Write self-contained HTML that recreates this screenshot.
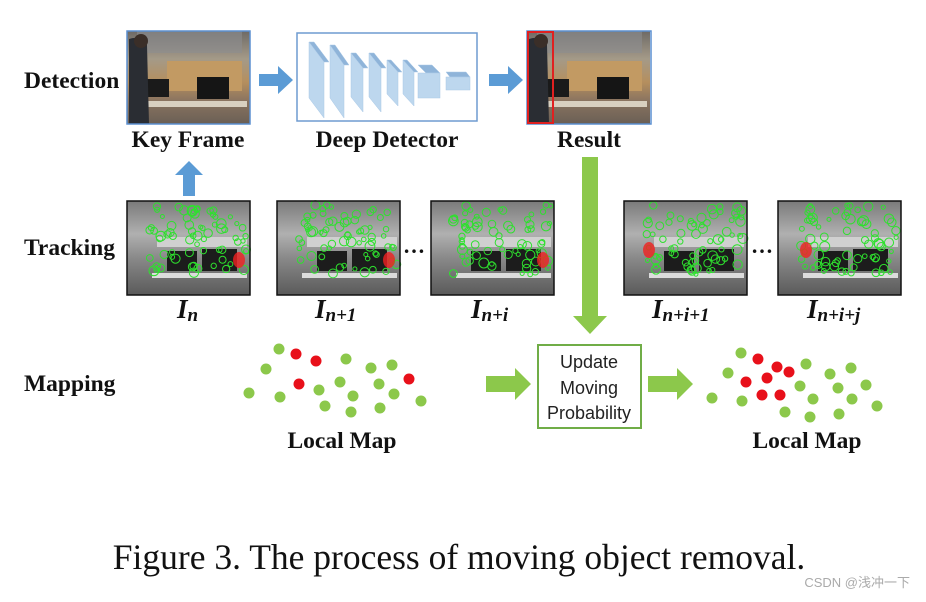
<!DOCTYPE html>
<html><head><meta charset="utf-8"><style>
html,body{margin:0;padding:0;background:#fff;}
body{width:926px;height:602px;overflow:hidden;position:relative;}
svg{position:absolute;left:0;top:0;}
.lb{font-family:"Liberation Serif",serif;font-weight:bold;fill:#111;}
</style></head><body>
<svg width="926" height="602" viewBox="0 0 926 602" xmlns="http://www.w3.org/2000/svg">
<defs>
<linearGradient id="wall" x1="0" y1="0" x2="0" y2="1">
<stop offset="0" stop-color="#6e6a66"/><stop offset="0.3" stop-color="#a49a88"/><stop offset="0.55" stop-color="#b58f5e"/><stop offset="0.75" stop-color="#8a7460"/><stop offset="1" stop-color="#6a5f55"/></linearGradient>
<linearGradient id="gray" x1="0" y1="0" x2="0" y2="1">
<stop offset="0" stop-color="#7a7a7a"/><stop offset="0.35" stop-color="#b0b0b0"/><stop offset="0.6" stop-color="#8a8a8a"/><stop offset="1" stop-color="#5a5a5a"/></linearGradient>
<g id="photo">
<rect x="0" y="0" width="123" height="93" fill="url(#wall)"/>
<rect x="10" y="0" width="105" height="22" fill="#8c8d91" opacity="0.6"/>
<rect x="40" y="30" width="75" height="30" fill="#c29a63"/>
<rect x="18" y="48" width="24" height="18" fill="#1a1a1a"/>
<rect x="70" y="46" width="32" height="22" fill="#151515"/>
<rect x="10" y="70" width="110" height="6" fill="#d8d0c0"/>
<path d="M2 8 Q14 4 20 14 L22 93 L2 93 Z" fill="#2a2d33"/>
<circle cx="14" cy="10" r="7" fill="#3a2e28"/>
</g>
<g id="gphoto">
<rect x="0" y="0" width="123" height="94" fill="url(#gray)"/>
<rect x="30" y="36" width="90" height="10" fill="#d0d0d0"/>
<rect x="40" y="50" width="30" height="20" fill="#1c1c1c"/>
<rect x="75" y="48" width="35" height="22" fill="#1c1c1c"/>
<rect x="25" y="72" width="95" height="5" fill="#dcdcdc"/>
</g>
</defs>

<text class="lb" x="24" y="88" font-size="23.5">Detection</text>
<text class="lb" x="24" y="255" font-size="23.5">Tracking</text>
<text class="lb" x="24" y="391" font-size="23.5">Mapping</text>

<g transform="translate(127,31)"><use href="#photo"/></g>
<rect x="127" y="31" width="123" height="93" fill="none" stroke="#5b8fd0" stroke-width="1.5"/>
<text class="lb" x="188" y="147" font-size="23.5" text-anchor="middle">Key Frame</text>

<path d="M259 74 H278 V66 L293 80 L278 94 V86 H259 Z" fill="#5b9bd5"/>
<path d="M489 74 H508 V66 L523 80 L508 94 V86 H489 Z" fill="#5b9bd5"/>
<path d="M183 196 V175 H175 L189 161 L203 175 H195 V196 Z" fill="#5b9bd5"/>

<rect x="297" y="33" width="180" height="88" fill="#fff" stroke="#6f9bd0" stroke-width="1.5"/>
<g fill="#bdd7ee" stroke="#a9c8e6" stroke-width="0.5">
<polygon points="309,42 314,42 329,62 324,62" fill="#8fb4d9"/><polygon points="309,42 324,62 324,118 309,98"/>
<polygon points="330,45 335,45 349,65 344,65" fill="#8fb4d9"/><polygon points="330,45 344,65 344,118 330,98"/>
<polygon points="351,53 356,53 368,68 363,68" fill="#8fb4d9"/><polygon points="351,53 363,68 363,112 351,97"/>
<polygon points="369,53 374,53 386,68 381,68" fill="#8fb4d9"/><polygon points="369,53 381,68 381,112 369,97"/>
<polygon points="387,60 391,60 402,72 398,72" fill="#8fb4d9"/><polygon points="387,60 398,72 398,106 387,94"/>
<polygon points="403,60 407,60 418,72 414,72" fill="#8fb4d9"/><polygon points="403,60 414,72 414,106 403,94"/>
<polygon points="418,65 432,65 440,73 426,73" fill="#8fb4d9"/><rect x="418" y="73" width="22" height="25"/>
<polygon points="446,72 466,72 470,77 450,77" fill="#8fb4d9"/><rect x="446" y="77" width="24" height="13"/>
</g>
<text class="lb" x="387" y="147" font-size="23.5" text-anchor="middle">Deep Detector</text>

<g transform="translate(527,31)"><use href="#photo"/></g>
<rect x="527" y="31" width="124" height="93" fill="none" stroke="#5b8fd0" stroke-width="1.5"/>
<rect x="528" y="32" width="25" height="91" fill="none" stroke="#e02020" stroke-width="2"/>
<text class="lb" x="589" y="147" font-size="23.5" text-anchor="middle">Result</text>

<path d="M582 157 H598 V316 H607 L590 334 L573 316 H582 Z" fill="#8cc84b"/>

<g transform="translate(127,201)"><use href="#gphoto"/></g>
<g transform="translate(277,201)"><use href="#gphoto"/></g>
<g transform="translate(431,201)"><use href="#gphoto"/></g>
<g transform="translate(624,201)"><use href="#gphoto"/></g>
<g transform="translate(778,201)"><use href="#gphoto"/></g>
<g id="feat"></g>
<g fill="none" stroke="#111" stroke-width="1.5">
<rect x="127" y="201" width="123" height="94"/><rect x="277" y="201" width="123" height="94"/>
<rect x="431" y="201" width="123" height="94"/><rect x="624" y="201" width="123" height="94"/>
<rect x="778" y="201" width="123" height="94"/></g>
<text class="lb" x="414" y="253" font-size="22" text-anchor="middle">…</text>
<text class="lb" x="762" y="253" font-size="22" text-anchor="middle">…</text>

<g font-family="Liberation Serif,serif" font-weight="bold" fill="#111" font-style="italic">
<text x="177" y="318" font-size="27">I<tspan font-size="19" dy="3">n</tspan></text>
<text x="315" y="318" font-size="27">I<tspan font-size="19" dy="3">n+1</tspan></text>
<text x="471" y="318" font-size="27">I<tspan font-size="19" dy="3">n+i</tspan></text>
<text x="652" y="318" font-size="27">I<tspan font-size="19" dy="3">n+i+1</tspan></text>
<text x="807" y="318" font-size="27">I<tspan font-size="19" dy="3">n+i+j</tspan></text>
</g>

<g id="dots"></g>
<text class="lb" x="342" y="448" font-size="23.5" text-anchor="middle">Local Map</text>
<text class="lb" x="807" y="448" font-size="23.5" text-anchor="middle">Local Map</text>

<path d="M486 376 H515 V368 L531 384 L515 400 V392 H486 Z" fill="#8cc84b"/>
<path d="M648 376 H677 V368 L693 384 L677 400 V392 H648 Z" fill="#8cc84b"/>
<rect x="538" y="345" width="103" height="83" fill="#fff" stroke="#70ad47" stroke-width="2"/>
<g font-family="Liberation Sans,sans-serif" font-size="18" fill="#222" text-anchor="middle">
<text x="589" y="368">Update</text><text x="589" y="394">Moving</text><text x="589" y="419">Probability</text></g>

<text x="459" y="569" font-family="Liberation Serif,serif" font-size="35.5" fill="#111" text-anchor="middle">Figure 3. The process of moving object removal.</text>
<text x="910" y="587" font-family="Liberation Sans,Noto Sans CJK SC,sans-serif" font-size="13" fill="#aaa" text-anchor="end">CSDN @浅冲一下</text>
</svg>
<script>
var NS="http://www.w3.org/2000/svg";
var dots=document.getElementById("dots");
var G="#8cc84b",R="#e8101a";
var L=[[279,349,G],[296,354,R],[316,361,R],[266,369,G],[346,359,G],[371,368,G],[392,365,G],[299,384,R],[319,390,G],[340,382,G],[379,384,G],[409,379,R],[249,393,G],[280,397,G],[353,396,G],[394,394,G],[325,406,G],[351,412,G],[380,408,G],[421,401,G],
[741,353,G],[758,359,R],[777,367,R],[789,372,R],[806,364,G],[728,373,G],[746,382,R],[767,378,R],[830,374,G],[851,368,G],[866,385,G],[800,386,G],[838,388,G],[762,395,R],[780,395,R],[712,398,G],[742,401,G],[813,399,G],[852,399,G],[785,412,G],[810,417,G],[839,414,G],[877,406,G]];
L.forEach(function(d){var c=document.createElementNS(NS,"circle");c.setAttribute("cx",d[0]);c.setAttribute("cy",d[1]);c.setAttribute("r",5.5);c.setAttribute("fill",d[2]);dots.appendChild(c);});
var f=document.getElementById("feat");var s=7;
function rnd(){s=(s*9301+49297)%233280;return s/233280;}
[127,277,431,624,778].forEach(function(x0,k){
 for(var i=0;i<70;i++){var c=document.createElementNS(NS,"circle");
  c.setAttribute("cx",x0+22+rnd()*98);c.setAttribute("cy",205+rnd()*70);c.setAttribute("r",2+rnd()*3);
  c.setAttribute("fill","none");c.setAttribute("stroke","#2ee02e");c.setAttribute("stroke-width","1");f.appendChild(c);}
 var r=document.createElementNS(NS,"ellipse");r.setAttribute("cx",x0+(k<3?112:k==3?25:28));r.setAttribute("cy",k<3?260:250);
 r.setAttribute("rx",6);r.setAttribute("ry",8);r.setAttribute("fill","#f02020");r.setAttribute("opacity","0.8");f.appendChild(r);
});
</script>
</body></html>
